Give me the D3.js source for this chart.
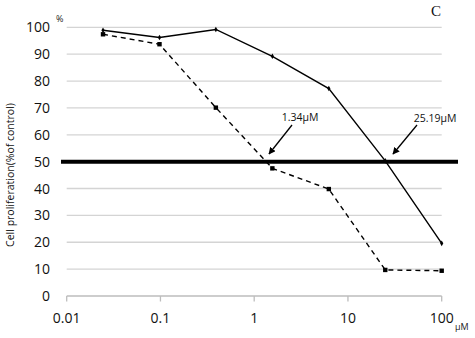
<!DOCTYPE html>
<html lang="en">
<head>
  <meta charset="UTF-8" />
  <title>Cell proliferation</title>
  <script src="https://d3js.org/d3.v7.min.js"></script>
  <style>
    body { margin: 0; padding: 0; background: #fff; }
    svg { display: block; font-family: "Open Sans", sans-serif; }
    .grid line { stroke: #d4d4d4; stroke-width: 1.3px; }
    .tick-label { font-size: 14px; fill: #111; }
  </style>
</head>
<body>
  <svg width="475" height="338"></svg>
  <script>
    // concentrations (µM), 4-fold dilutions
    const conc = [0.0244, 0.0977, 0.39, 1.5625, 6.25, 25, 100];
    const solidVals = [98.9, 96.2, 99.2, 89.2, 77.2, 50.3, 19.6];
    const dashedVals = [97.4, 93.7, 70.1, 47.5, 39.8, 9.7, 9.4];
    const xTicks = [0.01, 0.1, 1, 10, 100];
    const yTicks = [0, 10, 20, 30, 40, 50, 60, 70, 80, 90, 100];
    const ic50 = [
      { label: "1.34μM", tx: 300, ty: 121, from: [292, 125], to: [269, 154] },
      { label: "25.19μM", tx: 435, ty: 122, from: [417, 125], to: [393, 154] }
    ];

    const svg = d3.select("svg");
    const x = d3.scaleLog().domain([0.01, 100]).range([66.7, 441.7]);
    const y = d3.scaleLinear().domain([0, 100]).range([296, 27.3]);

    // grid
    svg.append("g").attr("class", "grid")
      .selectAll("line")
      .data(yTicks.filter(d => d > 0 && d !== 50))
      .enter().append("line")
      .attr("x1", x(0.01)).attr("x2", x(100))
      .attr("y1", d => y(d)).attr("y2", d => y(d));

    // x axis
    svg.append("line")
      .attr("x1", x(0.01)).attr("x2", x(100))
      .attr("y1", y(0)).attr("y2", y(0))
      .attr("stroke", "#bdbdbd").attr("stroke-width", 1.3);
    svg.append("g").selectAll("line")
      .data(xTicks)
      .enter().append("line")
      .attr("x1", d => x(d)).attr("x2", d => x(d))
      .attr("y1", y(0)).attr("y2", y(0) + 5.5)
      .attr("stroke", "#bdbdbd").attr("stroke-width", 1.3);

    svg.append("g").selectAll("text")
      .data(xTicks)
      .enter().append("text")
      .attr("class", "tick-label")
      .attr("x", d => x(d)).attr("y", 323)
      .attr("text-anchor", "middle")
      .text(d => d);

    svg.append("g").selectAll("text")
      .data(yTicks)
      .enter().append("text")
      .attr("class", "tick-label")
      .attr("x", 50).attr("y", d => y(d) + 5)
      .attr("text-anchor", "end")
      .text(d => d);

    // 50% line
    svg.append("line")
      .attr("x1", 61).attr("x2", 458)
      .attr("y1", y(50)).attr("y2", y(50))
      .attr("stroke", "#000").attr("stroke-width", 4);

    const line = d3.line().x(d => x(d[0])).y(d => y(d[1]));
    const solid = conc.map((c, i) => [c, solidVals[i]]);
    const dashed = conc.map((c, i) => [c, dashedVals[i]]);

    svg.append("path").datum(solid)
      .attr("d", line).attr("fill", "none")
      .attr("stroke", "#000").attr("stroke-width", 1.4);
    svg.append("path").datum(dashed)
      .attr("d", line).attr("fill", "none")
      .attr("stroke", "#000").attr("stroke-width", 1.4)
      .attr("stroke-dasharray", "5,4");

    svg.append("g").selectAll("path")
      .data(solid)
      .enter().append("path")
      .attr("d", d3.symbol().type(d3.symbolDiamond).size(9))
      .attr("transform", d => `translate(${x(d[0])},${y(d[1])})`)
      .attr("fill", "#000");
    svg.append("g").selectAll("rect")
      .data(dashed)
      .enter().append("rect")
      .attr("x", d => x(d[0]) - 2.2).attr("y", d => y(d[1]) - 2.2)
      .attr("width", 4.4).attr("height", 4.4)
      .attr("fill", "#000");

    // arrows
    svg.append("defs").append("marker")
      .attr("id", "arrow").attr("viewBox", "0 0 10 10")
      .attr("refX", 9).attr("refY", 5)
      .attr("markerWidth", 7).attr("markerHeight", 7)
      .attr("markerUnits", "userSpaceOnUse")
      .attr("orient", "auto")
      .append("path").attr("d", "M0,0 L10,5 L0,10 z").attr("fill", "#000");

    ic50.forEach(a => {
      svg.append("line")
        .attr("x1", a.from[0]).attr("y1", a.from[1])
        .attr("x2", a.to[0]).attr("y2", a.to[1])
        .attr("stroke", "#000").attr("stroke-width", 1.3)
        .attr("marker-end", "url(#arrow)");
      svg.append("text")
        .attr("x", a.tx).attr("y", a.ty)
        .attr("text-anchor", "middle")
        .attr("font-size", 10.5).attr("fill", "#111")
        .text(a.label);
    });

    // labels
    svg.append("text")
      .attr("transform", "translate(14,175) rotate(-90)")
      .attr("text-anchor", "middle")
      .attr("font-size", 10.5).attr("fill", "#111")
      .text("Cell proliferation(%of control)");
    svg.append("text")
      .attr("x", 56).attr("y", 22)
      .attr("font-size", 9).attr("fill", "#222")
      .text("%");
    svg.append("text")
      .attr("x", 455).attr("y", 330)
      .attr("font-size", 9).attr("fill", "#222")
      .text("μM");
    svg.append("text")
      .attr("x", 436).attr("y", 16)
      .attr("text-anchor", "middle")
      .attr("font-family", "Liberation Serif, serif")
      .attr("font-size", 15).attr("fill", "#111")
      .text("C");
  </script>
</body>
</html>
